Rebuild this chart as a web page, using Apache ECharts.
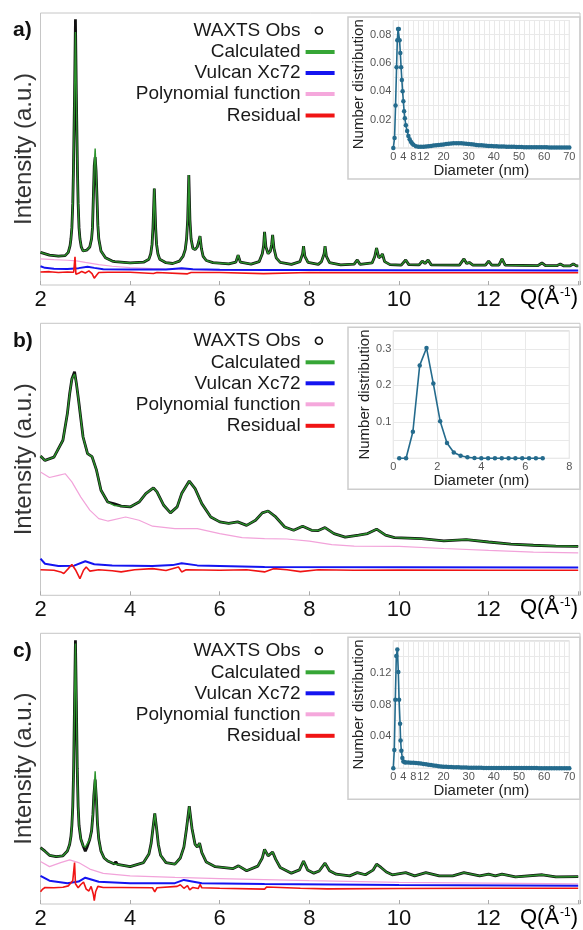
<!DOCTYPE html>
<html><head><meta charset="utf-8">
<script src="https://cdn.jsdelivr.net/npm/echarts/dist/echarts.min.js"></script>
<style>html,body{margin:0;padding:0;background:#fff}#c{width:583px;height:930px}</style>
</head><body><div id="c"></div><script>
// ---------------- DATA ----------------
// Panel a) main pattern: Q (1/Å) and intensities (a.u., 0-100 of panel height)
const qA = [
 2.00,2.20,2.40,2.55,2.62,2.66,2.68,2.70,2.72,2.735,
 2.76,2.78,2.80,2.825,2.84,2.86,2.88,2.91,2.95,3.03,
 3.10,3.14,3.16,3.18,3.20,3.22,3.24,3.26,3.28,3.30,
 3.35,3.45,3.60,3.66,3.68,3.70,4.00,4.30,4.42,4.46,
 4.49,4.51,4.54,4.57,4.59,4.62,4.66,4.80,4.95,5.10,
 5.18,5.23,5.26,5.285,5.31,5.335,5.36,5.40,5.45,5.50,
 5.53,5.56,5.59,5.63,5.70,5.85,6.20,6.36,6.41,6.46,
 6.70,6.88,6.95,6.98,7.00,7.03,7.08,7.13,7.16,7.18,
 7.21,7.26,7.35,7.60,7.79,7.85,7.87,7.90,7.97,8.20,
 8.27,8.33,8.35,8.38,8.45,8.70,9.00,9.07,9.13,9.40,
 9.46,9.50,9.55,9.60,9.63,9.68,9.80,10.05,10.15,10.22,
 10.45,10.52,10.58,10.65,10.72,11.35,11.45,11.51,11.57,11.65,
 11.93,12.00,12.07,12.23,12.30,12.37,13.10,13.19,13.27,13.52,
 13.60,13.68,13.82,13.89,13.96,14.00];
const obsA = [
 12.0,11.0,10.6,10.8,12.0,14.5,17.0,21.0,30.0,42.0,
 70.0,97.7,70.0,42.0,30.0,21.0,17.0,14.0,12.5,12.8,
 14.0,17.0,21.0,32.5,44.0,47.0,42.0,32.5,22.0,17.0,
 12.5,10.0,8.8,8.6,9.3,8.5,8.1,8.4,9.5,11.5,
 15.0,21.0,35.5,21.0,15.0,11.5,9.5,8.2,7.9,8.8,
 10.5,13.0,17.0,24.0,40.4,24.0,17.0,13.5,13.0,14.0,
 16.0,18.0,13.5,10.5,9.0,8.2,7.8,8.4,11.0,8.4,
 7.7,8.6,11.5,14.5,19.5,14.0,11.5,12.5,15.0,18.4,
 13.5,10.0,8.3,7.6,8.6,11.5,14.3,10.5,8.3,7.6,
 8.6,11.5,14.3,10.5,8.2,7.4,7.7,9.2,7.6,8.1,
 10.5,13.6,10.0,10.6,11.4,8.6,7.5,7.3,9.2,7.5,
 7.4,8.8,7.9,9.2,7.4,7.3,9.6,7.9,8.3,7.3,
 7.3,8.8,7.3,7.3,9.6,7.3,7.1,8.1,7.1,7.1,
 7.7,7.0,7.0,7.8,7.0,7.0];
const calcA = [
 12.0,11.0,10.6,10.8,12.0,14.5,17.0,21.0,30.0,42.0,
 70.0,93.0,70.0,42.0,30.0,21.0,17.0,14.0,12.5,12.8,
 14.0,17.0,21.0,32.5,44.0,50.2,42.0,32.5,22.0,17.0,
 12.5,10.0,8.8,8.6,8.8,8.5,8.1,8.4,9.5,11.5,
 15.0,21.0,35.5,21.0,15.0,11.5,9.5,8.2,7.9,8.8,
 10.5,13.0,17.0,24.0,40.4,24.0,17.0,13.5,13.0,14.0,
 16.0,18.0,13.5,10.5,9.0,8.2,7.8,8.4,11.0,8.4,
 7.7,8.6,11.5,14.5,19.5,14.0,11.5,12.5,15.0,18.4,
 13.5,10.0,8.3,7.6,8.6,11.5,14.3,10.5,8.3,7.6,
 8.6,11.5,14.3,10.5,8.2,7.4,7.7,9.2,7.6,8.1,
 10.5,13.6,10.0,10.6,11.4,8.6,7.5,7.3,9.2,7.5,
 7.4,8.8,7.9,9.2,7.4,7.3,9.6,7.9,8.3,7.3,
 7.3,8.8,7.3,7.3,9.6,7.3,7.1,8.1,7.1,7.1,
 7.7,7.0,7.0,7.8,7.0,7.0];
const vulcanA = [[2.0,6.9],[2.1,6.3],[2.3,6.0],[2.6,5.9],[2.85,6.2],[3.05,6.7],[3.2,6.3],[3.4,5.8],[4.0,5.7],[4.8,5.7],[5.15,6.2],[5.4,5.8],[6.0,5.6],[7.0,5.5],[8.0,5.5],[10,5.4],[12,5.4],[14,5.3]];
const polyA = [[2.0,9.6],[2.3,9.3],[2.6,9.1],[2.8,8.9],[3.0,8.3],[3.3,7.5],[3.6,6.9],[4.0,6.4],[4.5,6.0],[5.0,5.7],[6.0,5.5],[8,5.4],[10,5.3],[14,5.2]];
const resA = [[2.0,4.8],[2.2,4.9],[2.4,4.6],[2.6,4.8],[2.74,4.7],[2.77,10.4],[2.79,4.0],[2.85,4.3],[2.92,5.0],[3.0,4.4],[3.08,5.2],[3.15,4.2],[3.2,2.5],[3.25,3.6],[3.3,4.6],[3.5,4.7],[4.0,4.7],[4.52,4.2],[4.55,3.6],[4.6,4.6],[5.28,4.1],[5.32,3.6],[5.36,4.6],[6.0,4.6],[6.98,4.2],[7.02,4.6],[8.0,4.6],[10,4.5],[12,4.5],[14,4.5]];

// Panel b)
const qB = [
 2.00,2.10,2.30,2.50,2.60,2.65,2.70,2.76,2.80,2.85,
 2.95,3.05,3.15,3.25,3.35,3.50,3.65,3.80,4.00,4.20,
 4.35,4.52,4.60,4.75,4.90,5.05,5.15,5.32,5.45,5.60,
 5.80,6.00,6.20,6.40,6.60,6.80,6.95,7.08,7.25,7.45,
 7.65,7.85,8.05,8.20,8.35,8.55,8.80,9.10,9.30,9.50,
 9.70,9.90,10.50,11.00,11.50,12.00,12.50,13.00,13.50,14.00];
const obsB = [
 51.2,49.6,50.8,57.0,66.8,74.0,79.5,82.2,78.0,71.7,
 58.2,52.1,51.0,46.0,38.6,34.3,33.6,32.8,32.5,34.3,
 37.4,39.5,38.0,33.1,30.3,32.5,37.4,42.0,39.2,33.7,
 28.8,27.0,26.4,27.0,25.7,27.6,30.3,31.0,28.8,25.1,
 23.9,25.4,23.9,23.8,24.9,22.7,21.4,22.1,22.7,24.3,
 22.1,21.2,20.8,20.0,20.5,19.6,18.8,18.4,18.1,18.0];
const calcB = [
 51.2,49.6,50.8,57.0,66.8,74.0,79.5,81.3,78.0,71.7,
 58.2,52.1,51.0,46.0,38.6,34.3,33.0,32.8,32.5,34.3,
 37.4,39.5,38.0,33.1,30.3,32.5,37.4,42.0,39.2,33.7,
 28.8,27.0,26.4,27.0,25.7,27.6,30.3,31.0,28.8,25.1,
 23.9,25.4,23.9,23.8,24.9,22.7,21.4,22.1,22.7,24.3,
 22.1,21.2,20.8,20.0,20.5,19.6,18.8,18.4,18.1,18.0];
const vulcanB = [[2.0,13.5],[2.1,11.6],[2.4,10.8],[2.75,10.9],[3.0,12.5],[3.2,11.4],[3.6,11.0],[4.5,10.8],[4.95,11.1],[5.15,11.8],[5.5,11.0],[7.0,10.4],[10,10.3],[14,10.2]];
const polyB = [[2.0,45.3],[2.2,43.3],[2.4,44.1],[2.55,44.7],[2.7,41.7],[2.9,36.1],[3.1,31.3],[3.3,28.2],[3.5,27.3],[3.9,28.8],[4.2,27.6],[4.5,25.4],[5.0,24.5],[5.5,24.5],[6.0,22.7],[6.5,21.2],[7.0,20.8],[7.5,20.7],[8.0,19.9],[8.5,18.6],[9.0,18.1],[10,18.0],[11,17.2],[12,16.5],[13,15.9],[14,15.6]];
const resB = [[2.0,9.4],[2.3,9.2],[2.45,8.6],[2.52,8.0],[2.62,9.8],[2.70,11.3],[2.78,9.4],[2.88,6.1],[2.96,9.2],[3.02,10.4],[3.1,8.9],[3.3,9.4],[3.6,9.0],[3.8,8.6],[4.1,9.4],[4.5,9.8],[4.8,9.1],[5.08,10.4],[5.15,8.6],[5.25,9.4],[6.0,9.2],[6.6,9.4],[7.0,8.6],[7.2,9.8],[7.5,9.4],[7.8,8.7],[8.2,9.4],[9,9.2],[10,9.3],[12,9.2],[14,9.2]];

// Panel c)
const qC = [
 2.00,2.10,2.20,2.35,2.50,2.60,2.65,2.68,2.70,2.72,
 2.74,2.76,2.78,2.80,2.82,2.84,2.86,2.90,2.95,3.00,
 3.04,3.10,3.14,3.17,3.19,3.22,3.25,3.27,3.30,3.35,
 3.42,3.50,3.65,3.68,3.72,4.00,4.30,4.42,4.47,4.51,
 4.55,4.59,4.63,4.68,4.80,5.00,5.12,5.20,5.26,5.32,
 5.38,5.45,5.50,5.55,5.60,5.70,5.90,6.30,6.42,6.60,
 6.85,6.95,7.00,7.08,7.18,7.25,7.35,7.60,7.78,7.87,
 7.96,8.10,8.22,8.35,8.45,8.60,8.90,9.07,9.25,9.42,
 9.50,9.60,9.72,9.85,10.15,10.35,10.60,10.90,11.20,11.45,
 11.80,12.00,12.15,12.30,12.60,13.20,13.50,14.00];
const obsC = [
 20.8,19.5,18.0,17.5,17.8,19.6,22.0,25.0,29.0,36.0,
 50.0,75.0,97.4,75.0,50.0,36.0,29.0,24.0,21.5,19.5,
 21.0,23.9,27.0,33.0,40.0,46.0,38.0,30.0,24.0,19.5,
 17.0,15.9,14.8,15.6,14.6,13.8,15.3,18.5,22.5,28.0,
 33.5,28.0,22.0,18.0,15.3,14.7,17.0,21.0,28.0,36.1,
 28.0,22.0,21.0,22.5,19.0,15.5,13.8,13.1,14.1,12.3,
 14.0,17.0,20.2,17.8,19.2,16.5,13.5,11.4,12.6,15.9,
 12.6,11.4,12.2,15.1,12.3,11.0,10.4,11.6,10.8,12.5,
 14.7,13.5,11.8,10.8,11.6,10.4,11.6,10.4,10.4,11.6,
 10.4,11.0,10.4,11.0,10.0,10.8,10.0,10.1];
const calcC = [
 20.8,19.5,18.0,17.5,17.8,19.6,22.0,25.0,29.0,36.0,
 50.0,75.0,96.2,75.0,50.0,36.0,29.0,24.0,21.5,21.0,
 21.0,23.9,27.0,33.0,40.0,49.0,38.0,30.0,24.0,19.5,
 17.0,15.9,14.8,15.0,14.6,13.8,15.3,18.5,22.5,28.0,
 33.5,28.0,22.0,18.0,15.3,14.7,17.0,21.0,28.0,36.1,
 28.0,22.0,21.0,22.5,19.0,15.5,13.8,13.1,14.1,12.3,
 14.0,17.0,20.2,17.8,19.2,16.5,13.5,11.4,12.6,15.9,
 12.6,11.4,12.2,15.1,12.3,11.0,10.4,11.6,10.8,12.5,
 14.7,13.5,11.8,10.8,11.6,10.4,11.6,10.4,10.4,11.6,
 10.4,11.0,10.4,11.0,10.0,10.8,10.0,10.1];
const vulcanC = [[2.0,10.4],[2.2,8.6],[2.6,7.7],[2.85,8.3],[3.0,9.7],[3.3,8.2],[4.0,7.7],[5.0,7.7],[5.2,8.9],[5.6,7.7],[7,7.4],[10,7.0],[14,6.7]];
const polyC = [[2.0,15.7],[2.2,13.8],[2.45,15.3],[2.65,16.3],[2.85,15.3],[3.1,12.9],[3.4,11.3],[4.0,10.4],[5.0,9.8],[6.0,9.4],[8.0,8.6],[10,8.0],[12,7.7],[14,7.4]];
const resC = [[2.0,4.5],[2.05,5.5],[2.1,6.1],[2.3,6.0],[2.5,6.2],[2.62,6.7],[2.72,8.6],[2.76,15.3],[2.78,7.5],[2.84,6.0],[2.9,7.2],[2.96,8.1],[3.02,5.5],[3.08,4.8],[3.13,6.5],[3.18,3.5],[3.2,1.2],[3.23,4.5],[3.28,6.5],[3.4,6.1],[3.8,6.1],[4.5,6.0],[4.55,4.5],[4.6,6.0],[5.05,6.5],[5.12,7.1],[5.2,5.8],[5.28,6.8],[5.33,5.2],[5.4,6.1],[5.52,5.7],[5.56,7.2],[5.6,6.0],[6,5.8],[7.0,5.5],[7.05,6.3],[7.8,5.8],[8.4,5.6],[10,5.7],[12,5.8],[14,5.8]];

// Insets: number distribution vs diameter (nm)
const diamA = [0,0.5,0.9,1.3,1.6,1.9,2.2,2.5,2.8,3.1,3.4,3.7,4.0,4.3,4.6,5.0,5.5,6.0,6.5,7,7.5,8,9,10,11,12,
 13,14,15,16,17,18,19,20,21,22,23,24,25,26,27,28,29,30,31,32,33,34,35,36,37,38,39,40,41,42,
 43,44,45,46,47,48,49,50,51,52,53,54,55,56,57,58,59,60,61,62,63,64,65,66,67,68,69,70];
const numA = [0,0.007,0.030,0.057,0.076,0.084,0.084,0.076,0.067,0.057,0.048,0.040,0.033,0.026,0.021,0.016,0.012,0.0085,0.0062,0.0045,0.0032,0.0023,0.0013,0.0009,0.0008,0.0009,
 0.0011,0.0013,0.0015,0.0017,0.0019,0.0021,0.0023,0.0025,0.0028,0.0030,
 0.0032,0.0033,0.0034,0.0034,0.0033,0.0032,0.0030,0.0028,0.0026,0.0024,
 0.0022,0.0020,0.0019,0.0017,0.0016,0.0015,0.0014,0.0013,0.0012,0.0011,
 0.0010,0.0010,0.0009,0.0009,0.0008,0.0008,0.0007,0.0007,0.0007,0.0006,
 0.0006,0.0006,0.0006,0.0005,0.0005,0.0005,0.0005,0.0005,0.0005,0.0004,
 0.0004,0.0004,0.0004,0.0004,0.0004,0.0004,0.0004,0.0004];
const diamB = [0.27,0.58,0.89,1.20,1.51,1.82,2.13,2.44,2.75,3.06,3.37,3.69,4.00,4.31,4.62,4.93,5.24,5.55,5.86,6.17,6.48,6.79];
const numB = [0,0,0.073,0.255,0.303,0.205,0.102,0.042,0.016,0.007,0.003,0.001,0,0,0,0,0,0,0,0,0,0];
const diamC = [0,0.4,0.8,1.2,1.6,2.0,2.3,2.7,2.9,3.2,3.6,4.0,4.5,5,
 6,7,8,9,10,11,12,13,14,15,16,17,18,19,20,21,22,23,24,25,26,27,28,29,30,31,32,33,34,35,
 36,37,38,39,40,41,42,43,44,45,46,47,48,49,50,51,52,53,54,55,56,57,58,59,60,61,62,63,64,65,
 66,67,68,69,70];
const numC = [0,0.023,0.086,0.141,0.149,0.121,0.086,0.056,0.035,0.022,0.013,0.0085,0.0075,0.0072,
 0.0072,0.0071,0.0070,0.0067,0.0064,0.0060,0.0055,0.0050,0.0045,0.0040,
 0.0035,0.0031,0.0027,0.0024,0.0021,0.0019,0.0017,0.0015,0.0014,0.0013,
 0.0012,0.0011,0.0010,0.0009,0.0008,0.0008,0.0007,0.0007,0.0006,0.0006,
 0.0005,0.0005,0.0005,0.0004,0.0004,0.0004,0.0004,0.0004,0.0003,0.0003,
 0.0003,0.0003,0.0003,0.0003,0.0003,0.0003,0.0003,0.0003,0.0003,0.0003,
 0.0003,0.0003,0.0002,0.0002,0.0002,0.0002,0.0002,0.0002,0.0002,0.0002,
 0.0002,0.0002,0.0002,0.0002,0.0002];

const legendNames = ['WAXTS Obs','Calculated','Vulcan Xc72','Polynomial function','Residual'];
const panelLabels = ['a)','b)','c)'];
const mainTicks = [2,4,6,8,10,12];
const insetTicksWide = [0,4,8,12,20,30,40,50,60,70];

// ---------------- CHART ----------------
const FONT = '"Liberation Sans", Arial, sans-serif';
const COL = {obs:'#111111', calc:'#2b922b', vulcan:'#1414f0', poly:'#f2a3da', res:'#f01414', dist:'#246b8d'};
const LEG = {obs:'#111111', calc:'#36a636', vulcan:'#1414f0', poly:'#f5a8dc', res:'#f01414'};
const zip = (xs, ys) => xs.map((x, i) => [x, ys[i]]);

const panelTop = [13, 323.3, 633.3];
const PH = 272;
const panels = [
  {q:qA, obs:obsA, calc:calcA, v:vulcanA, p:polyA, r:resA, d:diamA, n:numA},
  {q:qB, obs:obsB, calc:calcB, v:vulcanB, p:polyB, r:resB, d:diamB, n:numB},
  {q:qC, obs:obsC, calc:calcC, v:vulcanC, p:polyC, r:resC, d:diamC, n:numC}
];
const insetY = [
  {max:0.09, interval:0.01, labels:[0.02,0.04,0.06,0.08], dec:2},
  {max:0.35, interval:0.05, labels:[0.1,0.2,0.3], dec:1},
  {max:0.16, interval:0.02, labels:[0.04,0.08,0.12], dec:2}
];
const insetX = [
  {max:70, interval:2, labels:insetTicksWide},
  {max:8, interval:2, labels:[0,2,4,6,8]},
  {max:70, interval:2, labels:insetTicksWide}
];

const grid = [], xAxis = [], yAxis = [], series = [], legend = [], graphic = [];

panels.forEach((P, k) => {
  const top = panelTop[k];
  const mi = grid.length;
  // main grid
  grid.push({left:40.5, right:-2, top:top, height:PH, show:true, borderColor:'#c6c6c6', borderWidth:1, containLabel:false});
  xAxis.push({gridIndex:mi, type:'value', min:2, max:14.04, interval:2,
    axisLine:{show:false}, splitLine:{show:false},
    axisTick:{show:true, inside:true, length:4, lineStyle:{color:'#aaa'}},
    axisLabel:{margin:4, fontSize:22, color:'#111', fontFamily:FONT,
      formatter: v => mainTicks.indexOf(v) >= 0 ? String(v) : ''}});
  yAxis.push({gridIndex:mi, type:'value', min:0, max:100,
    axisLine:{show:false}, axisTick:{show:false}, axisLabel:{show:false}, splitLine:{show:false},
    name:'Intensity (a.u.)', nameLocation:'middle', nameGap:4,
    nameTextStyle:{fontSize:24, color:'#333', fontFamily:FONT}});
  series.push(
    {name:'Polynomial function', type:'line', xAxisIndex:mi, yAxisIndex:mi, data:P.p, showSymbol:false, symbol:'none', color:LEG.poly, lineStyle:{width:1.2, color:COL.poly}, z:2},
    {name:'Vulcan Xc72', type:'line', xAxisIndex:mi, yAxisIndex:mi, data:P.v, showSymbol:false, symbol:'none', color:LEG.vulcan, lineStyle:{width:2, color:COL.vulcan}, z:3},
    {name:'Residual', type:'line', xAxisIndex:mi, yAxisIndex:mi, data:P.r, showSymbol:false, symbol:'none', color:LEG.res, lineStyle:{width:1.6, color:COL.res}, z:4},
    {name:'WAXTS Obs', type:'line', xAxisIndex:mi, yAxisIndex:mi, data:zip(P.q, P.obs), showSymbol:false, symbol:'none', color:COL.obs, lineStyle:{width:2.8, color:COL.obs}, z:5},
    {name:'Calculated', type:'line', xAxisIndex:mi, yAxisIndex:mi, data:zip(P.q, P.calc), showSymbol:false, symbol:'none', color:LEG.calc, lineStyle:{width:1.4, color:COL.calc}, z:6}
  );
  // legends (one per row so that each row is right-aligned)
  const rowY = [17, 38.5, 59.5, 80.5, 102];
  legendNames.forEach((nm, i) => {
    const isObs = i === 0;
    const colr = [LEG.obs, LEG.calc, LEG.vulcan, LEG.poly, LEG.res][i];
    legend.push({show:true, orient:'horizontal', align:'right',
      right: isObs ? 259.8 : 248.4, top: top + rowY[i] - 9,
      padding:0, itemGap:0, itemWidth: isObs ? 7 : 29, itemHeight: isObs ? 7 : 4, selectedMode:false,
      textStyle:{fontSize:19, color:'#1a1a1a', fontFamily:FONT, padding: isObs ? [0,10,0,0] : 0},
      data:[ isObs ? {name:nm, icon:'circle', itemStyle:{color:'#fff', borderColor:'#111', borderWidth:1.6}}
                   : {name:nm, icon:'rect', itemStyle:{color:colr}} ]});
  });
  // panel label + Q axis title
  graphic.push({type:'text', left:13, top: top + 7, style:{text:panelLabels[k], fontSize:21, fontWeight:'bold', fontFamily:FONT, fill:'#111'}});
  graphic.push({type:'text', x:520, y: top + PH + 12.5, style:{
    text:'{a|Q(Å}{s|-1}{a|)}', verticalAlign:'middle', align:'left',
    rich:{a:{fontSize:22, fontFamily:FONT, color:'#111'}, s:{fontSize:12, fontFamily:FONT, color:'#111', verticalAlign:'top', padding:[0,0,0,1]}}}});
  // inset frame
  graphic.push({type:'rect', shape:{x:348, y:top + 4, width:232, height:162}, style:{fill:'none', stroke:'#cdcdcd', lineWidth:1.5}, z:1});
  // inset grid
  const gi = grid.length;
  const iy = insetY[k], ix = insetX[k];
  grid.push({left:393.3, right:13.7, top: top + 7.5, height:127.5, show:true, borderColor:'#d6d6d6', borderWidth:1});
  xAxis.push({gridIndex:gi, type:'value', min:0, max:ix.max, interval:ix.interval,
    axisLine:{show:false}, axisTick:{show:false},
    splitLine:{show:true, lineStyle:{color:'#e9e9e9', width:1}},
    axisLabel:{margin:3, fontSize:11, color:'#555', fontFamily:FONT,
      formatter: v => ix.labels.indexOf(Math.round(v*100)/100) >= 0 ? String(Math.round(v)) : ''},
    name:'Diameter (nm)', nameLocation:'middle', nameGap:11,
    nameTextStyle:{fontSize:15, color:'#222', fontFamily:FONT}});
  yAxis.push({gridIndex:gi, type:'value', min:0, max:iy.max, interval:iy.interval,
    axisLine:{show:false}, axisTick:{show:false},
    splitLine:{show:true, lineStyle:{color:'#e9e9e9', width:1}},
    axisLabel:{margin:2, fontSize:11, color:'#555', fontFamily:FONT,
      formatter: v => { const r = Math.round(v*1000)/1000; return iy.labels.some(l => Math.abs(l - r) < 1e-6) ? r.toFixed(iy.dec) : ''; }},
    name:'Number distribution', nameLocation:'middle', nameGap:21,
    nameTextStyle:{fontSize:15, color:'#222', fontFamily:FONT}});
  series.push({name:'dist' + k, type:'line', xAxisIndex:gi, yAxisIndex:gi, data:zip(P.d, P.n),
    symbol:'circle', symbolSize:4.5, showSymbol:true, color:COL.dist,
    lineStyle:{width:1.6, color:COL.dist}, itemStyle:{color:COL.dist}, z:5});
});

const chart = echarts.init(document.getElementById('c'), null, {renderer:'canvas'});
chart.setOption({
  animation:false,
  backgroundColor:'#ffffff',
  textStyle:{fontFamily:FONT},
  grid, xAxis, yAxis, series, legend, graphic
});
</script></body></html>
